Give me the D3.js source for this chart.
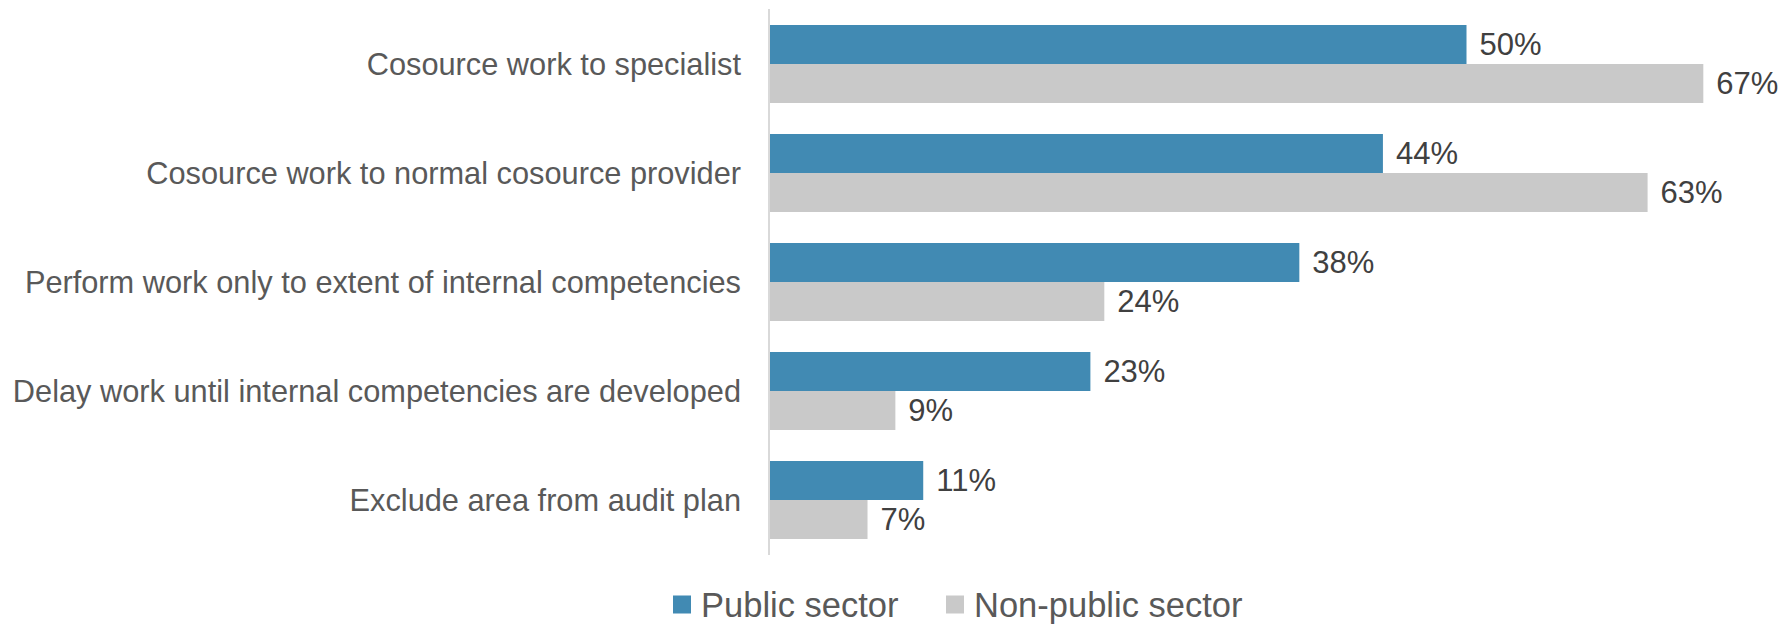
<!DOCTYPE html>
<html>
<head>
<meta charset="utf-8">
<script src="https://cdn.jsdelivr.net/npm/d3@7/dist/d3.min.js"></script>
<style>
  html, body { margin: 0; padding: 0; background: #ffffff; }
  svg { display: block; font-family: "Liberation Sans", Arial, sans-serif; }
</style>
</head>
<body>
<svg id="chart" width="1790" height="625"></svg>
<script>
// Survey responses: how the audit function handles areas lacking internal competency
const categories = [
  "Cosource work to specialist",
  "Cosource work to normal cosource provider",
  "Perform work only to extent of internal competencies",
  "Delay work until internal competencies are developed",
  "Exclude area from audit plan"
];
const seriesNames = ["Public sector", "Non-public sector"];
const publicSector = [0.50, 0.44, 0.38, 0.23, 0.11];
const nonPublicSector = [0.67, 0.63, 0.24, 0.09, 0.07];
const seriesColors = ["#418AB3", "#C9C9C9"];

const rows = categories.map((c, i) => ({
  category: c,
  values: [publicSector[i], nonPublicSector[i]]
}));

const svg = d3.select("#chart");

const plot = { left: 770, top: 9.5, bottom: 554.5 };

const x = d3.scaleLinear()
  .domain([0, 0.7])
  .range([plot.left, plot.left + 0.7 * 1393]);

const y = d3.scaleBand()
  .domain(categories)
  .range([plot.top, plot.bottom])
  .paddingInner(0.2844)
  .paddingOuter(0.1422);

const ySub = d3.scaleBand()
  .domain(d3.range(seriesNames.length))
  .range([0, y.bandwidth()]);

const pct = d3.format(".0%");

// Category groups
const groups = svg.append("g")
  .selectAll("g")
  .data(rows)
  .join("g")
  .attr("transform", d => `translate(0,${y(d.category)})`);

groups.selectAll("rect")
  .data(d => d.values.map((v, k) => ({ v, k })))
  .join("rect")
  .attr("x", x(0))
  .attr("y", d => ySub(d.k))
  .attr("width", d => x(d.v) - x(0))
  .attr("height", ySub.bandwidth())
  .attr("fill", d => seriesColors[d.k]);

// Value labels to the right of each bar
groups.selectAll("text.value")
  .data(d => d.values.map((v, k) => ({ v, k })))
  .join("text")
  .attr("class", "value")
  .attr("x", d => x(d.v) + 13)
  .attr("y", d => ySub(d.k) + ySub.bandwidth() / 2 + 11)
  .attr("fill", "#404040")
  .attr("font-size", 31)
  .text(d => pct(d.v));

// Vertical category axis line
const yAxis = d3.axisLeft(y).tickSize(0).tickPadding(28);
const axisG = svg.append("g")
  .attr("transform", `translate(${plot.left - 1},0)`)
  .call(yAxis);
axisG.select(".domain")
  .attr("stroke", "#D9D9D9")
  .attr("stroke-width", 2)
  .attr("d", `M0,${plot.top - 0.5}V${plot.bottom + 0.5}`);
axisG.selectAll(".tick text")
  .attr("font-size", 30.75)
  .attr("font-family", "'Liberation Sans', Arial, sans-serif")
  .attr("fill", "#595959")
  .attr("dy", null)
  .attr("y", 11);

// Legend
const legendItems = [
  { name: seriesNames[0], color: seriesColors[0], x: 673 },
  { name: seriesNames[1], color: seriesColors[1], x: 946 }
];
const legend = svg.append("g").attr("transform", "translate(0,604.5)");
const li = legend.selectAll("g")
  .data(legendItems)
  .join("g")
  .attr("transform", d => `translate(${d.x},0)`);
li.append("rect")
  .attr("x", 0)
  .attr("y", -9)
  .attr("width", 18)
  .attr("height", 18)
  .attr("fill", d => d.color);
li.append("text")
  .attr("x", 28)
  .attr("y", 12)
  .attr("font-size", 34.5)
  .attr("fill", "#595959")
  .text(d => d.name);
</script>
</body>
</html>
